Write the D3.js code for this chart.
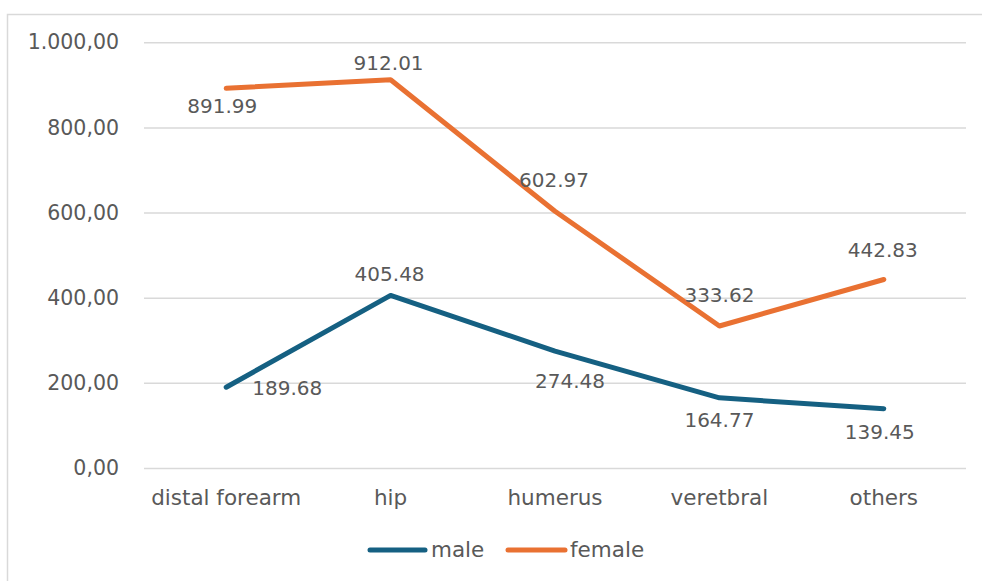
<!DOCTYPE html>
<html>
<head>
<meta charset="utf-8">
<script src="https://cdn.jsdelivr.net/npm/d3@7"></script>
<style>
  html, body { margin: 0; padding: 0; background: #ffffff; }
  svg { display: block; }
  text { font-family: "DejaVu Sans", "Noto Sans", sans-serif; fill: #595959; }
</style>
</head>
<body>
<svg id="chart" width="982" height="581"></svg>
<script>
// Fracture sites and rates per sex
const categories = ["distal forearm", "hip", "humerus", "veretbral", "others"];
const maleValues = [189.68, 405.48, 274.48, 164.77, 139.45];
const femaleValues = [891.99, 912.01, 602.97, 333.62, 442.83];
const yTicks = [0, 200, 400, 600, 800, 1000];

// Data label placement (offset from the point, in px: [dx, baseline dy])
const maleLabelOffsets = [[61, 8], [-1, -14], [15, 37], [0, 29], [-4, 30]];
const femaleLabelOffsets = [[-4, 25], [-2, -10], [-1, -24], [0, -24], [-1, -22]];

const FONT = '"DejaVu Sans", sans-serif';

const svg = d3.select("#chart");
const W = 982, H = 581;

// Outer chart frame
svg.append("rect")
  .attr("x", 7.5).attr("y", 14.5)
  .attr("width", W + 20).attr("height", H + 20)
  .attr("fill", "none")
  .attr("stroke", "#d9d9d9")
  .attr("stroke-width", 1.5);

const plot = { left: 144, right: 966, top: 42.3, bottom: 468 };

const x = d3.scaleBand()
  .domain(categories)
  .range([plot.left, plot.right]);

const y = d3.scaleLinear()
  .domain([0, 1000])
  .range([plot.bottom, plot.top]);

const numFmt = d3.formatLocale({ decimal: ",", thousands: ".", grouping: [3], currency: ["", ""] }).format(",.2f");

// Horizontal gridlines with value labels
const yAxis = d3.axisLeft(y)
  .tickValues(yTicks)
  .tickSize(-(plot.right - plot.left))
  .tickPadding(25)
  .tickFormat(numFmt);

const gy = svg.append("g")
  .attr("transform", `translate(${plot.left},0)`)
  .call(yAxis);
gy.select(".domain").remove();
gy.selectAll(".tick line").attr("stroke", "#d9d9d9").attr("stroke-width", 1.5);
gy.selectAll(".tick text")
  .attr("font-size", 20.5)
  .attr("fill", "#595959")
  .style("font-family", FONT);

// Category axis labels
const xAxis = d3.axisBottom(x).tickSize(0).tickPadding(22);
const gx = svg.append("g")
  .attr("transform", `translate(0,${plot.bottom})`)
  .call(xAxis);
gx.select(".domain").remove();
gx.selectAll(".tick text")
  .attr("font-size", 21.5)
  .attr("fill", "#595959")
  .style("font-family", FONT);

const cx = d => x(d) + x.bandwidth() / 2;

const line = d3.line()
  .x((d, i) => cx(categories[i]))
  .y(d => y(d));

const series = [
  { name: "male", values: maleValues, color: "#156082", offsets: maleLabelOffsets },
  { name: "female", values: femaleValues, color: "#E97132", offsets: femaleLabelOffsets }
];

series.forEach(s => {
  svg.append("path")
    .datum(s.values)
    .attr("d", line)
    .attr("fill", "none")
    .attr("stroke", s.color)
    .attr("stroke-width", 5)
    .attr("stroke-linecap", "round")
    .attr("stroke-linejoin", "round");
});

// Value labels on each point
series.forEach(s => {
  svg.append("g").selectAll("text")
    .data(s.values)
    .join("text")
    .attr("x", (d, i) => cx(categories[i]) + s.offsets[i][0])
    .attr("y", (d, i) => y(d) + s.offsets[i][1])
    .attr("text-anchor", "middle")
    .attr("font-size", 20)
    .attr("fill", "#404040")
    .style("font-family", FONT)
    .text(d => d.toFixed(2));
});

// Legend
const legend = svg.append("g");
const legendItems = [
  { name: "male", color: "#156082", x1: 370, x2: 425, tx: 431 },
  { name: "female", color: "#E97132", x1: 508, x2: 565, tx: 570 }
];
legendItems.forEach(item => {
  legend.append("line")
    .attr("x1", item.x1).attr("x2", item.x2)
    .attr("y1", 550).attr("y2", 550)
    .attr("stroke", item.color)
    .attr("stroke-width", 5)
    .attr("stroke-linecap", "round");
  legend.append("text")
    .attr("x", item.tx).attr("y", 557)
    .attr("font-size", 21.5)
    .attr("fill", "#595959")
    .style("font-family", FONT)
    .text(item.name);
});
</script>
</body>
</html>
